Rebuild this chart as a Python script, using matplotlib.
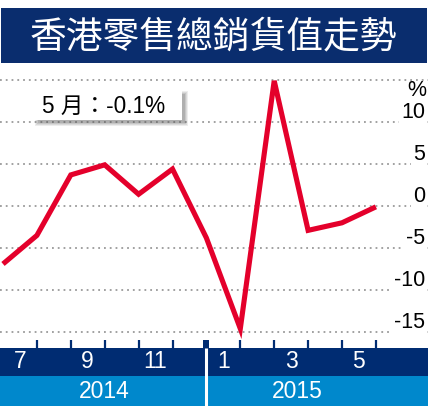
import matplotlib
matplotlib.use('Agg')
import matplotlib.pyplot as plt
from matplotlib.patches import Rectangle
from matplotlib.transforms import blended_transform_factory

# data: HK retail sales value, year-on-year %, Jun 2014 - May 2015
months = ['6', '7', '8', '9', '10', '11', '12', '1', '2', '3', '4', '5']
values = [-6.9, -3.5, 3.7, 4.9, 1.4, 4.4, -3.8, -14.6, 14.9, -2.9, -2.0, -0.1]
month_labels = ['7', '9', '11', '1', '3', '5']
month_label_pos = [0.5, 2.5, 4.5, 6.5, 8.5, 10.5]
years = ['2014', '2015']
year_pos = [3.0, 8.67]
yticks = [-15, -10, -5, 0, 5, 10]
title = '香港零售總銷貨值走勢'
note = '5 月：-0.1%'

W, H = 428, 409
navy = '#0a2d6e'
bar_navy = '#002c72'
light_blue = '#0088cc'
red = '#e4002b'
num_font = ['Liberation Sans', 'Noto Sans CJK TC', 'DejaVu Sans']

fig = plt.figure(figsize=(W / 100, H / 100), dpi=100)

# main chart axes, pixel rows 66..348; 8.4 px per unit, zero at row 206
top_px, bot_px = 66, 348
ax = fig.add_axes([0, (H - bot_px) / H, 1, (bot_px - top_px) / H])
ax.set_xlim(-3 / 33.9, (W - 3) / 33.9)
ax.set_ylim((206 - bot_px) / 8.4, (206 - top_px) / 8.4)
for s in ax.spines.values():
    s.set_visible(False)
ax.patch.set_alpha(0)
ax.set_yticks([])
ax.set_xticks(range(1, len(values)))
ax.set_xticklabels([])
ax.tick_params(axis='x', direction='in', length=5.8, width=1.6, color=bar_navy)

for v in [-15, -10, -5, 0, 5, 10, 15]:
    ax.axhline(v, color='#9a9a9a', lw=1.3, ls=(0, (1, 2.2)), zorder=1)

ax.plot(range(len(values)), values, color=red, lw=3.7, zorder=4,
        solid_joinstyle='miter', solid_capstyle='butt')

px_off = 10 / 8.4
for v in yticks:
    ax.text(0.993, v + px_off, str(v), transform=ax.get_yaxis_transform(),
            ha='right', va='center', fontsize=15.5, family=num_font,
            bbox=dict(facecolor='white', edgecolor='none', pad=1.2), zorder=2)
ax.text(0.995, 13.7, '%', transform=ax.get_yaxis_transform(),
        ha='right', va='center', fontsize=15.5, family=num_font, zorder=3)

# overlay in pixel coordinates for banner, bands and note box
ov = fig.add_axes([0, 0, 1, 1], zorder=2)
ov.set_xlim(0, W)
ov.set_ylim(H, 0)
ov.axis('off')
ov.patch.set_alpha(0)

ov.add_patch(Rectangle((1, 8), 426, 55, facecolor=navy, edgecolor='none'))
ov.text(213, 37, title, ha='center', va='center', color='white',
        fontsize=26.5, family=['Noto Sans CJK TC', 'DejaVu Sans'])

# note box with soft shadow
for i, a in enumerate([0.10, 0.12, 0.15, 0.2]):
    d = 4 - i
    ov.add_patch(Rectangle((35 + 4 - d, 91 + 4 - d), 147 + 2 * d - 2, 29 + 2 * d - 2,
                           facecolor='#555555', edgecolor='none', alpha=a))
ov.add_patch(Rectangle((35, 91), 147, 29, facecolor='white', edgecolor='none'))
ov.text(104, 106, note, ha='center', va='center', fontsize=16.3, family=num_font)

# bottom bands
ov.add_patch(Rectangle((0, 348), W, 28, facecolor=bar_navy, edgecolor='none'))
ov.add_patch(Rectangle((0, 376), W, 30, facecolor=light_blue, edgecolor='none'))

bt = blended_transform_factory(ax.transData, ov.transData)
ov.add_patch(Rectangle((6 - 0.09, 340), 0.17, 8, facecolor=bar_navy,
                       edgecolor='none', transform=bt))
ov.plot([6, 6], [348, 406], color='white', lw=2.2, transform=bt,
        solid_capstyle='butt')

for lab, p in zip(month_labels, month_label_pos):
    ov.text(p, 362, lab, transform=bt, ha='center', va='center',
            color='white', fontsize=16.5, family=num_font)
for lab, p in zip(years, year_pos):
    ov.text(p, 392, lab, transform=bt, ha='center', va='center',
            color='white', fontsize=16.5, family=num_font)

fig.savefig('out.png', dpi=100)
